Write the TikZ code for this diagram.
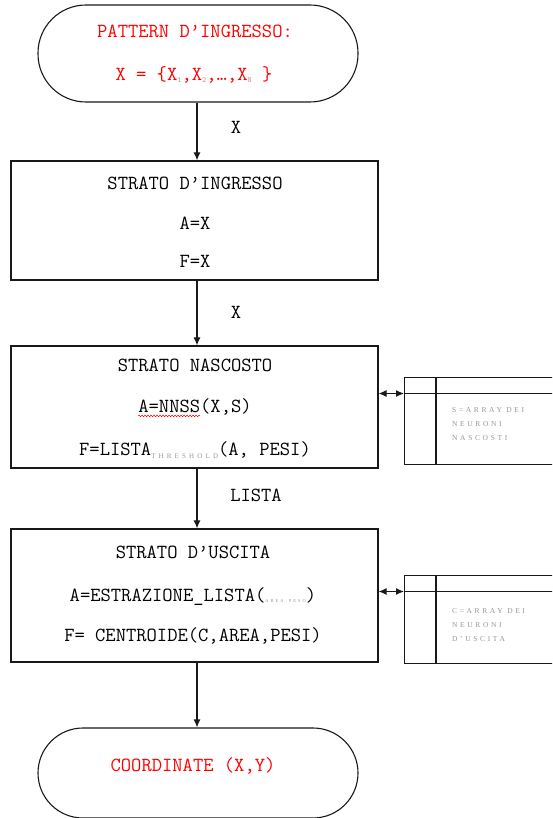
\documentclass[tikz,border=0pt]{standalone}
\usepackage{fontspec}
\setmainfont{Liberation Mono}
\newfontfamily\notefont[LetterSpace=35]{Liberation Serif}
\newfontfamily\subfont[LetterSpace=45]{Liberation Serif}
\usetikzlibrary{arrows.meta,calc,decorations.pathmorphing}

\definecolor{titlered}{RGB}{255,0,0}
\definecolor{subred}{RGB}{240,130,130}
\definecolor{notegray}{RGB}{150,150,150}
\definecolor{edge}{RGB}{25,25,25}

\begin{document}
\begin{tikzpicture}[x=1pt,y=-1pt,
  layerbox/.style={draw=edge,line width=1.3pt,rectangle,minimum width=367pt,inner sep=0pt},
  terminal/.style={draw=edge,line width=1.1pt,rectangle,minimum width=320pt,inner sep=0pt},
  sidebox/.style={draw=edge,line width=1.3pt,rectangle,minimum width=170pt,inner sep=0pt,anchor=north west},
  txt/.style={font=\ttfamily\fontsize{20}{22}\selectfont,inner sep=0pt,text height=11.5pt,text depth=0pt,anchor=center},
  redtxt/.style={txt,text=titlered},
  note/.style={font=\notefont\fontsize{7.5}{14}\selectfont,text=notegray,align=left,inner sep=0pt,anchor=north west},
  flow/.style={draw=edge,line width=1.1pt,-{Latex[length=8pt,width=7pt]}},
  link/.style={draw=edge,line width=1.1pt,{Latex[length=8pt,width=7pt]}-{Latex[length=8pt,width=7pt]}},
  squiggle/.style={draw=titlered,line width=0.5pt,decorate,decoration={snake,amplitude=0.8pt,segment length=3pt}}]

\useasboundingbox (0,0) rectangle (552,818);
\clip (0,0) rectangle (552,818);

% terminals
\node[terminal,minimum height=97pt,rounded corners=48pt] (start) at (198,53.5) {};
\node[terminal,minimum height=90pt,rounded corners=45pt] (stop) at (198,773) {};

% layers
\node[layerbox,minimum height=119pt] (inlayer) at (194.5,220.5) {};
\node[layerbox,minimum height=122pt] (hidlayer) at (194.5,407) {};
\node[layerbox,minimum height=133pt] (outlayer) at (194.5,595.5) {};

% neuron arrays
\node[sidebox,minimum height=87pt] (hidarr) at (404,377) {};
\node[sidebox,minimum height=88pt] (outarr) at (404,575) {};
\foreach \b in {hidarr,outarr}{
  \draw[edge,line width=1.3pt] ([xshift=32pt]\b.north west) -- ([xshift=32pt]\b.south west);
  \coordinate (\b-h) at ([yshift=-16.5pt]\b.north west);
  \draw[edge,line width=1.3pt] (\b-h) -- (\b-h -| \b.east);
}
\node[note] (hidnote) at (452,407) {S=ARRAY  DEI\\NEURONI\\NASCOSTI};
\node[note] (outnote) at (452,608) {C=ARRAY DEI\\NEURONI\\D’USCITA};

% texts
\node[redtxt] (t1) at (195,32) {PATTERN D’INGRESSO:};
\node[redtxt] (t2) at (194,75) {X = \{X{\color{subred}\fontsize{8}{8}\selectfont\raisebox{-2pt}{1}},X{\color{subred}\fontsize{8}{8}\selectfont\raisebox{-2pt}{2}},\dots,X{\color{subred}\fontsize{8}{8}\selectfont\raisebox{-2pt}{N}} \}};

\node[txt] (t3) at (195,184) {STRATO D’INGRESSO};
\node[txt] (t4) at (195,224) {A=X};
\node[txt] (t5) at (195,262) {F=X};

\node[txt] (t6) at (195,366) {STRATO NASCOSTO};
\node[txt] (t7) at (195,407) {A=NNSS(X,S)};
\node[txt] (t8) at (195,450) {F=LISTA{\subfont\color{notegray}\fontsize{7}{8}\selectfont\raisebox{-3pt}{THRESHOLD}}(A, PESI)};

\node[txt] (t9) at (193,553) {STRATO D’USCITA};
\node[txt] (t10) at (193,596) {A=ESTRAZIONE\_LISTA({\subfont\color{notegray}\fontsize{4.5}{5}\selectfont\raisebox{-1pt}{AREA,PESO}})};
\node[txt] (t11) at (193,636) {F= CENTROIDE(C,AREA,PESI)};

\node[redtxt] (t12) at (193,766) {COORDINATE (X,Y)};

% spelling mark under the function name
\draw[squiggle] ([yshift=-3pt]t7.south west) -- ($([yshift=-3pt]t7.south west)!0.5454!([yshift=-3pt]t7.south east)$);

% connectors
\draw[flow] (start.south -| 197,0) -- (inlayer.north -| 197,0);
\draw[flow] (inlayer.south -| 197,0) -- (hidlayer.north -| 197,0);
\draw[flow] (hidlayer.south -| 197,0) -- (outlayer.north -| 197,0);
\draw[flow] (outlayer.south -| 197,0) -- (stop.north -| 197,0);

\draw[link] (hidarr-h -| hidlayer.east) -- (hidarr-h);
\draw[link] (outarr-h -| outlayer.east) -- (outarr-h);

% connector labels
\node[txt] (l1) at (236,128) {X};
\node[txt] (l2) at (236,313) {X};
\node[txt] (l3) at (256,496) {LISTA};
\end{tikzpicture}
\end{document}
